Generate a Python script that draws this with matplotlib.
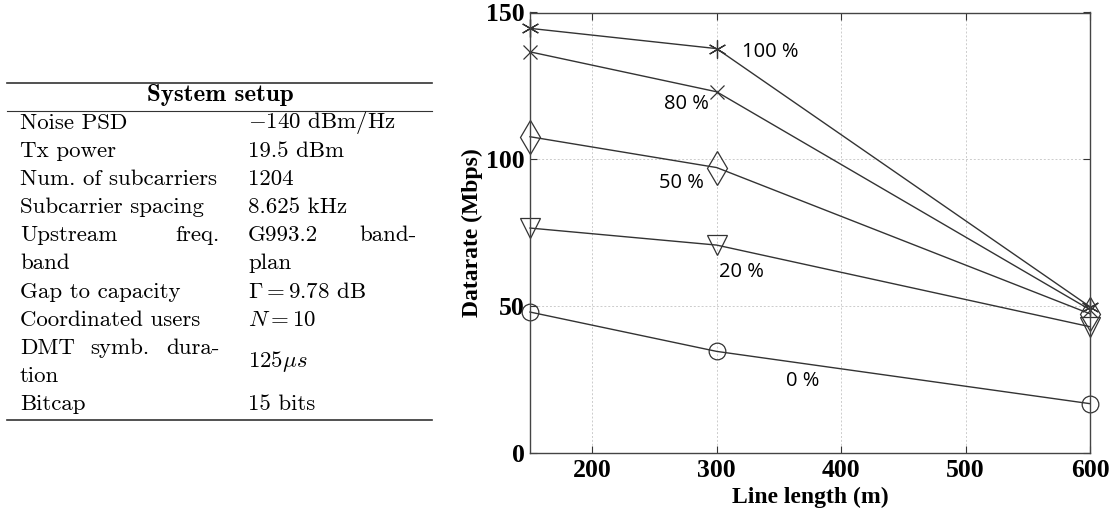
import matplotlib.pyplot as plt

# line length (m) vs datarate (Mbps) for different shares of coordinated users
length = [150, 300, 600]
rate_100 = [144.6, 137.7, 49.8]
rate_80 = [136.6, 123.0, 48.8]
rate_50 = [107.7, 97.2, 47.4]
rate_20 = [76.6, 70.8, 43.0]
rate_0 = [48.0, 34.6, 16.8]
series_labels = ['100 %', '80 %', '50 %', '20 %', '0 %']
label_pos = [(343, 136.5), (276, 119.0), (272, 92.0), (320, 61.6), (369, 24.5)]

# system setup table
table_params = ['Noise PSD', 'Tx power', 'Num. of subcarriers', 'Subcarrier spacing',
                'Gap to capacity', 'Coordinated users', 'Bitcap']
table_values = [r'$-$140 dBm/Hz', '19.5 dBm', '1204', '8.625 kHz',
                r'$\Gamma = $9.78 dB', r'$N = $10', '15 bits']

plt.rcParams['mathtext.fontset'] = 'cm'
fig = plt.figure(figsize=(11.16, 5.15), dpi=100)

# ---- table drawn as text in figure pixels ----
W, H = 1116.0, 515.0
def fx(px):
    return px / W
def fy(py):
    return 1 - py / H

tfont = dict(family='cmr10', fontsize=16.5, va='center')
left_x, right_x = 20, 248
fig.add_artist(plt.Line2D([fx(7), fx(432)], [fy(82.5), fy(82.5)], color='#333333', lw=1.2))
fig.add_artist(plt.Line2D([fx(7), fx(432)], [fy(110.5), fy(110.5)], color='#333333', lw=0.8))
fig.add_artist(plt.Line2D([fx(7), fx(432)], [fy(420), fy(420)], color='#333333', lw=1.2))
fig.text(fx(220), fy(95), 'System setup', family='cmb10', fontsize=18, ha='center', va='center')

rows_y = {'Noise PSD': 123, 'Tx power': 151.5, 'Num. of subcarriers': 179.5,
          'Subcarrier spacing': 207.5, 'Gap to capacity': 292, 'Coordinated users': 320,
          'Bitcap': 404}
for p, v in zip(table_params, table_values):
    y = fy(rows_y[p])
    fig.text(fx(left_x), y, p, ha='left', **tfont)
    fig.text(fx(right_x), y, v, ha='left', **tfont)

# justified multi-line rows
fig.text(fx(left_x), fy(235.5), 'Upstream', ha='left', **tfont)
fig.text(fx(220), fy(235.5), 'freq.', ha='right', **tfont)
fig.text(fx(left_x), fy(263.5), 'band', ha='left', **tfont)
fig.text(fx(right_x), fy(235.5), 'G993.2', ha='left', **tfont)
fig.text(fx(417), fy(235.5), 'band-', ha='right', **tfont)
fig.text(fx(right_x), fy(263.5), 'plan', ha='left', **tfont)
fig.text(fx(left_x), fy(348), 'DMT', ha='left', **tfont)
fig.text(fx(90), fy(348), 'symb.', ha='left', **tfont)
fig.text(fx(220), fy(348), 'dura-', ha='right', **tfont)
fig.text(fx(left_x), fy(376), 'tion', ha='left', **tfont)
fig.text(fx(right_x), fy(362), r'125$\mu s$', ha='left', **tfont)

# ---- chart ----
ax = fig.add_axes([530 / W, 1 - 453 / H, 560 / W, (453 - 12.5) / H])
col = '#333333'
kw = dict(color=col, lw=1.0, markerfacecolor='none', markeredgecolor=col,
          markeredgewidth=0.9, clip_on=False)
ax.plot(length, rate_100, marker=(6, 2, 0), markersize=13, **kw)
ax.plot(length, rate_80, marker='x', markersize=10, **kw)
ax.plot(length, rate_50, marker='d', markersize=17, **kw)
ax.plot(length, rate_20, marker='v', markersize=14, **kw)
ax.plot(length, rate_0, marker='o', markersize=12, **kw)

for lab, (x, y) in zip(series_labels, label_pos):
    ax.text(x, y, lab, family='Open Sans', fontsize=14.5, ha='center', va='center')

ax.set_xlim(150, 600)
ax.set_ylim(0, 150)
ax.set_xticks([200, 300, 400, 500, 600])
ax.set_yticks([0, 50, 100, 150])
ax.grid(True, linestyle=(0, (2, 2)), color='#cccccc', lw=0.7)
ax.tick_params(direction='in', top=True, right=True, length=5, color=col, pad=4)
for lbl in ax.get_xticklabels() + ax.get_yticklabels():
    lbl.set_family('Liberation Serif')
    lbl.set_fontweight('bold')
    lbl.set_fontsize(18.5)
for s in ax.spines.values():
    s.set_color('#444444')
    s.set_linewidth(1.0)
ax.set_xlabel('Line length (m)', family='Liberation Serif', fontweight='bold', fontsize=17, labelpad=4)
ax.set_ylabel('Datarate (Mbps)', family='Liberation Serif', fontweight='bold', fontsize=17, labelpad=2)

fig.savefig('out.png', dpi=100)
